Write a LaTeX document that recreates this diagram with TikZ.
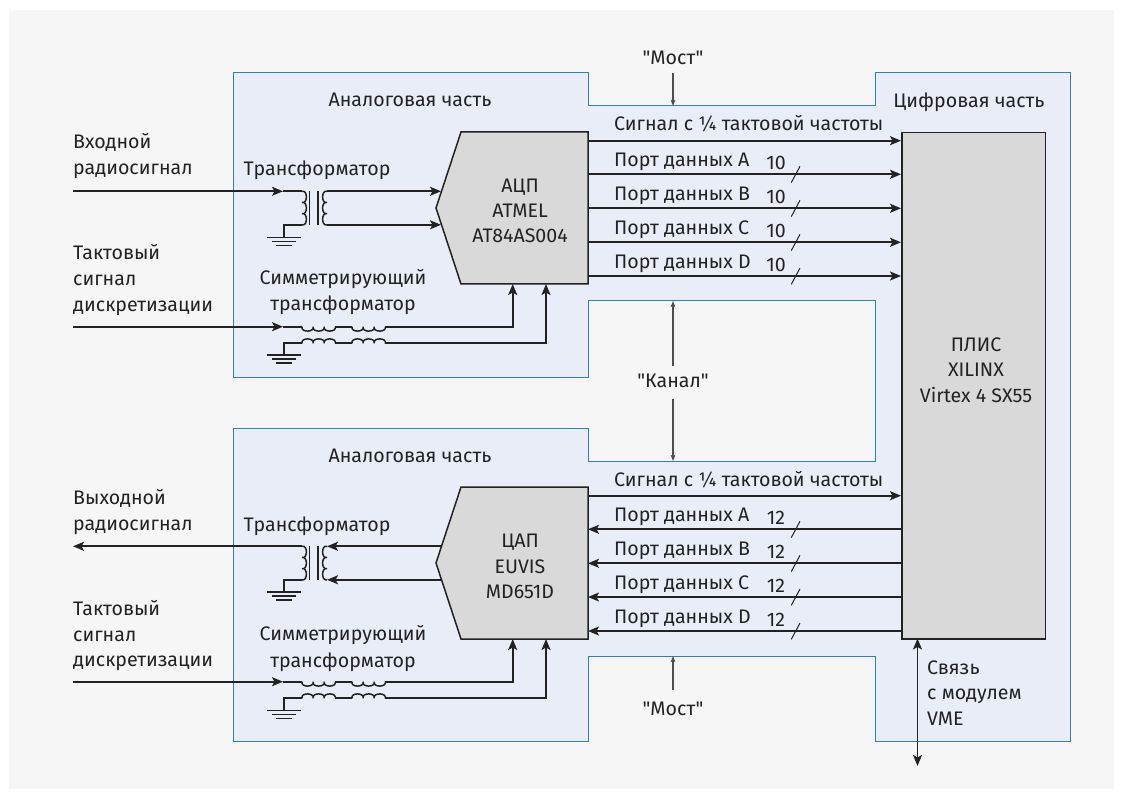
\documentclass[tikz,border=0pt]{standalone}
\usepackage{fontspec}
\newfontfamily\myfont{Fira Sans}[Numbers=Lining]
\usetikzlibrary{arrows.meta}
\definecolor{bgc}{HTML}{F6F6F6}
\definecolor{panel}{HTML}{E8EDF8}
\definecolor{edgeblue}{HTML}{2F7FC1}
\definecolor{chip}{HTML}{D9D9D9}
\definecolor{ink}{HTML}{222222}
\tikzset{
  wire/.style={draw=ink,line width=1.7pt},
  sig/.style={wire,-{Stealth[length=11pt,width=9pt,inset=2.5pt]}},
  sigb/.style={wire,{Stealth[length=11pt,width=9pt,inset=2.5pt]}-{Stealth[length=11pt,width=9pt,inset=2.5pt]}},
  thin arrow/.style={draw=ink!80,line width=1.1pt,-{Stealth[length=6pt,width=4.5pt,inset=1pt]}},
  lab/.style={text=ink,font=\myfont\fontsize{19.6}{22}\selectfont,inner sep=0pt,anchor=base,yshift=-1pt},
  labl/.style={lab,anchor=base west},
  chipbox/.style={draw=ink,fill=chip,line width=1.5pt},
  gnd/.style={wire,line width=1.4pt}
}
\newcommand{\myCoil}[7]{%
  \begin{scope}[shift={(#1,#2)},x={(#3pt,#4pt)},y={(#5pt,#6pt)}]
    \draw[wire,line width=1.5pt] (0,0) \foreach \k in {1,...,#7} { .. controls ({\k-1.15},1.3) and ({\k+0.15},1.3) .. (\k,0) };
  \end{scope}}
\newcommand{\myGnd}[2]{%
  \draw[gnd] (#1-17,#2) -- (#1+17,#2);
  \draw[gnd] (#1-12,#2+4) -- (#1+12,#2+4);
  \draw[gnd] (#1-8,#2+8) -- (#1+8,#2+8);}
\newcommand{\myCore}[2]{%
  \draw[wire] (#1+7.5,#2) -- (#1+7.5,#2+33.5);
  \draw[wire] (#1+15.7,#2) -- (#1+15.7,#2+33.5);}
\newcommand{\mySlash}[1]{\draw[wire,line width=1pt] (791.3,#1+8.3) -- (800,#1-8);}
\begin{document}
\begin{tikzpicture}[x=1pt,y=-1pt]
\useasboundingbox (0,0) rectangle (1124,799);
\fill[white] (0,0) rectangle (1124,799);
\fill[bgc] (9,10) rectangle (1114,789);
\draw[fill=panel,draw=edgeblue,line width=1pt]
 (233,73) -- (588,73) -- (588,106) -- (875,106) -- (875,73) -- (1070,73) -- (1070,741) -- (875,741) -- (875,656) -- (588,656) -- (588,741) -- (233,741) -- (233,428) -- (588,428) -- (588,461) -- (875,461) -- (875,301) -- (588,301) -- (588,377) -- (233,377) -- cycle;

% chips
\draw[chipbox] (461,132) -- (588,132) -- (588,284) -- (461,284) -- (436,208) -- cycle;
\draw[chipbox] (461,487) -- (588,487) -- (588,639) -- (461,639) -- (436,563) -- cycle;
\node[chipbox,minimum width=143.5pt,minimum height=506pt,inner sep=0pt,anchor=north west] (fpga) at (901,132) {};
\node[lab] (adc1) at (520,191.5) {АЦП};
\node[lab] (adc2) at (520,217) {ATMEL};
\node[lab] (adc3) at (520,241.5) {AT84AS004};
\node[lab] (dac1) at (520,546.5) {ЦАП};
\node[lab] (dac2) at (520,572) {EUVIS};
\node[lab] (dac3) at (520,597) {MD651D};
\node[lab] (f1) at (976,351) {ПЛИС};
\node[lab] (f2) at (976,376) {XILINX};
\node[lab] (f3) at (976,401) {Virtex 4 SX55};

% bridge / channel
\node[lab] (m1) at (673,64) {"Мост"};
\node[lab] (kan) at (673,387) {"Канал"};
\node[lab] (m2) at (673,714) {"Мост"};
\coordinate (m1a) at (673,73); \coordinate (m1b) at (673,106);
\coordinate (k1) at (673,366); \coordinate (k1b) at (673,301);
\coordinate (k2) at (673,399); \coordinate (k2b) at (673,461);
\coordinate (m2a) at (673,690); \coordinate (m2b) at (673,656);
\draw[thin arrow] (m1a) -- (m1b);
\draw[thin arrow] (k1) -- (k1b);
\draw[thin arrow] (k2) -- (k2b);
\draw[thin arrow] (m2a) -- (m2b);

% upper data lines
\foreach \y/\t in {174.3/A,208.3/B,242.3/C,276/D}{
  \coordinate (a) at (588,\y); \coordinate (b) at (901,\y);
  \draw[sig] (a) -- (b);
  \mySlash{\y}
  \node[labl] at (614,\y-8.5) {Порт данных \t};
  \node[lab] at (776,\y-5.5) {10};
}
\coordinate (a) at (588,140.7); \coordinate (b) at (901,140.7);
\draw[sig] (a) -- (b);
\node[labl] at (614,130) {Сигнал с ¼ тактовой частоты};
% lower data lines
\foreach \y/\t in {529.3/A,563.3/B,597/C,631/D}{
  \coordinate (a) at (901,\y); \coordinate (b) at (588,\y);
  \draw[sig] (a) -- (b);
  \mySlash{\y}
  \node[labl] at (614,\y-9) {Порт данных \t};
  \node[lab] at (776,\y-6) {12};
}
\coordinate (a) at (588,495.7); \coordinate (b) at (901,495.7);
\draw[sig] (a) -- (b);
\node[labl] at (614,485) {Сигнал с ¼ тактовой частоты};
% VME
\coordinate (v1) at (917.5,638.5); \coordinate (v2) at (917.5,766);
\draw[sigb] (v1) -- (v2);
\node[labl] at (927,673) {Связь};
\node[labl] at (927,698) {с модулем};
\node[labl] at (927,724) {VME};

% left labels
\node[labl] at (73,148) {Входной};
\node[labl] at (73,174) {радиосигнал};
\node[labl] at (73,259) {Тактовый};
\node[labl] at (73,285) {сигнал};
\node[labl] at (73,311) {дискретизации};
\node[labl] at (73,503) {Выходной};
\node[labl] at (73,529) {радиосигнал};
\node[labl] at (73,614) {Тактовый};
\node[labl] at (73,640) {сигнал};
\node[labl] at (73,665) {дискретизации};
\node[lab] at (410,106) {Аналоговая часть};
\node[lab] at (410,461) {Аналоговая часть};
\node[lab] at (969,107) {Цифровая часть};
\node[lab] at (317,175) {Трансформатор};
\node[lab] at (317,530) {Трансформатор};
\node[lab] at (343,284) {Симметрирующий};
\node[lab] at (343,310) {трансформатор};
\node[lab] at (343,639) {Симметрирующий};
\node[lab] at (343,666) {трансформатор};

% upper transformer
\coordinate (i1) at (73,191.3); \coordinate (i1t) at (283,191.3); \coordinate (p1) at (302,191.3);
\draw[sig] (i1) -- (i1t); \draw[wire] (i1t) -- (p1);
\myCoil{302}{191.3}{0}{-11.17}{4.5}{0}{3}
\myCoil{327}{191.3}{0}{-11.17}{-4.5}{0}{3}
\myCore{302}{191.3}
\coordinate (s1) at (327,191.3); \coordinate (s1t) at (441,191.3);
\coordinate (s2) at (327,224.8); \coordinate (s2t) at (441,224.8);
\draw[sig] (s1) -- (s1t); \draw[sig] (s2) -- (s2t);
\draw[wire] (302,224.8) -- (284,224.8) -- (284,237);
\myGnd{284}{237.3}
% upper balun
\coordinate (i2) at (73,326.7); \coordinate (i2t) at (283,326.7);
\draw[sig] (i2) -- (i2t); \draw[wire] (i2t) -- (302,326.7);
\myCoil{302}{326.7}{11.1}{0}{0}{-4.5}{3}
\myCoil{352}{326.7}{11.1}{0}{0}{-4.5}{3}
\draw[wire] (335.3,326.7) -- (352,326.7);
\myCoil{302}{343.3}{11.1}{0}{0}{4.5}{3}
\myCoil{352}{343.3}{11.1}{0}{0}{4.5}{3}
\draw[wire] (335.3,343.3) -- (352,343.3);
\coordinate (b1) at (385.3,326.7); \coordinate (b1t) at (512.7,284);
\coordinate (b2) at (385.3,343.3); \coordinate (b2t) at (546,284);
\draw[sig] (b1) -| (b1t);
\draw[sig] (b2) -| (b2t);
\draw[wire] (302,343.3) -- (284,343.3) -- (284,355);
\myGnd{284}{355}

% lower transformer
\coordinate (o1) at (302,546.3); \coordinate (o1t) at (73,546.3);
\draw[sig] (o1) -- (o1t);
\myCoil{302}{546.3}{0}{-11.17}{4.5}{0}{3}
\myCoil{327}{546.3}{0}{-11.17}{-4.5}{0}{3}
\myCore{302}{546.3}
\coordinate (d1) at (441,546.3); \coordinate (d1t) at (327,546.3);
\coordinate (d2) at (441,579.8); \coordinate (d2t) at (327,579.8);
\draw[sig] (d1) -- (d1t); \draw[sig] (d2) -- (d2t);
\draw[wire] (302,579.8) -- (284,579.8) -- (284,592);
\myGnd{284}{592}
% lower balun
\coordinate (i3) at (73,681.7); \coordinate (i3t) at (283,681.7);
\draw[sig] (i3) -- (i3t); \draw[wire] (i3t) -- (302,681.7);
\myCoil{302}{681.7}{11.1}{0}{0}{-4.5}{3}
\myCoil{352}{681.7}{11.1}{0}{0}{-4.5}{3}
\draw[wire] (335.3,681.7) -- (352,681.7);
\myCoil{302}{698.3}{11.1}{0}{0}{4.5}{3}
\myCoil{352}{698.3}{11.1}{0}{0}{4.5}{3}
\draw[wire] (335.3,698.3) -- (352,698.3);
\coordinate (b3) at (385.3,681.7); \coordinate (b3t) at (512.7,639);
\coordinate (b4) at (385.3,698.3); \coordinate (b4t) at (546,639);
\draw[sig] (b3) -| (b3t);
\draw[sig] (b4) -| (b4t);
\draw[wire] (302,698.3) -- (284,698.3) -- (284,710);
\myGnd{284}{710.5}
\end{tikzpicture}
\end{document}
